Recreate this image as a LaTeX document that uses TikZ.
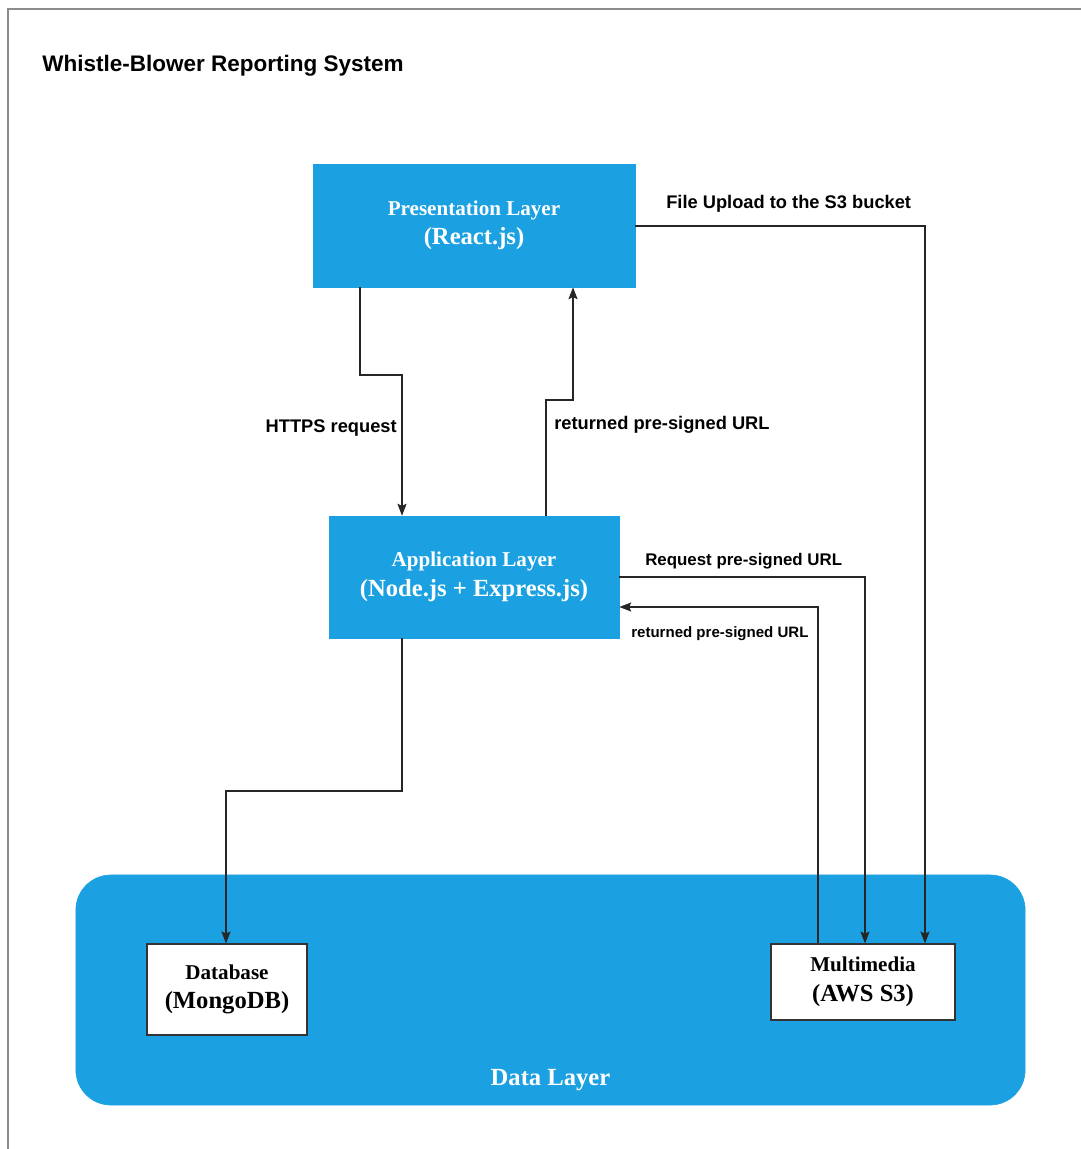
\documentclass[tikz,border=0pt]{standalone}
\usepackage{fontspec}
\setmainfont{Liberation Serif}
\newfontfamily\arialfont{Liberation Sans}
\usetikzlibrary{arrows.meta}

\definecolor{layerblue}{RGB}{27,161,226}

\begin{document}
\begin{tikzpicture}[x=0.025cm,y=-0.025cm,
    layer/.style={fill=layerblue, draw=layerblue, text=white, font=\bfseries\fontsize{17.5}{21}\selectfont, align=center},
    store/.style={fill=white, draw=black!80, line width=0.8pt, font=\bfseries\fontsize{17.5}{21}\selectfont, align=center},
    link/.style={draw=black!85, line width=0.8pt, -{Stealth[length=8.5pt,width=6.5pt,inset=1.5pt]}},
    lbl/.style={font=\arialfont\bfseries\fontsize{13}{15}\selectfont, inner sep=0pt}]
  \useasboundingbox (0,0) rectangle (1080,1149);
  \draw[black!45, line width=1.4pt] (8,1160) -- (8,9) -- (1090,9);
  \node[lbl, anchor=west, font=\arialfont\bfseries\fontsize{16}{18}\selectfont] (title) at (42,66) {Whistle-Blower Reporting System};

  \node[layer, minimum width=8.05cm, minimum height=3.075cm] (pres) at (474,225.5)
    {{\fontsize{15}{21}\selectfont Presentation Layer}\\(React.js)};
  \node[layer, minimum width=7.25cm, minimum height=3.05cm] (app) at (474,577)
    {{\fontsize{15}{21}\selectfont Application Layer}\\(Node.js + Express.js)};
  \node[layer, rounded corners=0.875cm, minimum width=23.725cm, minimum height=5.75cm,
    label={[text=white, font=\bfseries\fontsize{17.5}{20}\selectfont, anchor=center, label distance=-0.62cm]south:Data Layer}] (data) at (550.5,990) {};
  \node[store, minimum width=4cm, minimum height=2.275cm] (db) at (227,989.5)
    {{\fontsize{15}{21}\selectfont Database}\\(MongoDB)};
  \node[store, minimum width=4.6cm, minimum height=1.9cm] (s3) at (863,982)
    {{\fontsize{15}{21}\selectfont Multimedia}\\(AWS S3)};

  \coordinate (h1) at (360,375);
  \coordinate (h2) at (402,375);
  \coordinate (r1) at (546,400);
  \coordinate (r2) at (573,400);
  \coordinate (f1) at (925,226);
  \coordinate (q1) at (865,577);
  \coordinate (u1) at (818,607);
  \coordinate (d1) at (402,791);
  \coordinate (d2) at (226,791);

  \draw[link] (pres.south -| h1) -- (h1) -- (h2) -- (h2 |- app.north);
  \draw[link] (app.north -| r1) -- (r1) -- (r2) -- (r2 |- pres.south);
  \draw[link] (pres.east |- f1) -- (f1) -- (f1 |- s3.north);
  \draw[link] (app.east |- q1) -- (q1) -- (q1 |- s3.north);
  \draw[link] (s3.north -| u1) -- (u1) -- (u1 -| app.east);
  \draw[link] (app.south -| d1) -- (d1) -- (d2) -- (d2 |- db.north);

  \node[lbl, anchor=east] (https) at (397,428) {HTTPS request};
  \node[lbl, anchor=west] (urlup) at (554,425) {returned pre-signed URL};
  \node[lbl, anchor=west] (upload) at (666,204) {File Upload to the S3 bucket};
  \node[lbl, anchor=west, font=\arialfont\bfseries\fontsize{12}{14}\selectfont] (request) at (645,561) {Request pre-signed URL};
  \node[lbl, anchor=west, font=\arialfont\bfseries\fontsize{10.7}{13}\selectfont] (urldown) at (631,634) {returned pre-signed URL};
\end{tikzpicture}
\end{document}
